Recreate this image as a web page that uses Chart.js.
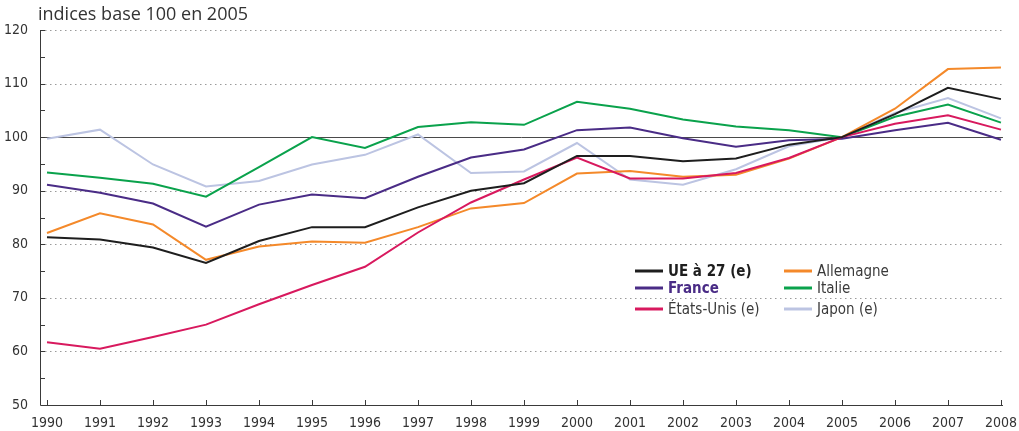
<!DOCTYPE html>
<html>
<head>
<meta charset="utf-8">
<script src="https://cdn.jsdelivr.net/npm/chart.js@4.4.1/dist/chart.umd.min.js"></script>
<style>
  html, body { margin: 0; padding: 0; background: #fff; }
  #wrap { width: 1019px; height: 431px; }
</style>
</head>
<body>
<div id="wrap"><canvas id="graf"></canvas></div>
<script>
    // Indices base 100 en 2005
    const annees = [1990, 1991, 1992, 1993, 1994, 1995, 1996, 1997, 1998, 1999,
                    2000, 2001, 2002, 2003, 2004, 2005, 2006, 2007, 2008];
    const ue27      = [81.3, 80.9, 79.4, 76.5, 80.6, 83.2, 83.2, 86.9, 90.0, 91.4, 96.5, 96.5, 95.5, 96.0, 98.6, 100, 104.3, 109.2, 107.1];
    const allemagne = [82.1, 85.8, 83.7, 77.1, 79.6, 80.5, 80.3, 83.2, 86.7, 87.7, 93.2, 93.7, 92.6, 93.0, 96.0, 100, 105.3, 112.7, 113.0];
    const france    = [91.1, 89.6, 87.6, 83.3, 87.4, 89.3, 88.6, 92.6, 96.2, 97.7, 101.3, 101.8, 99.8, 98.2, 99.4, 99.7, 101.3, 102.7, 99.5];
    const italie    = [93.4, 92.4, 91.3, 88.9, 94.4, 100.0, 98.0, 101.9, 102.8, 102.3, 106.6, 105.3, 103.3, 102.0, 101.3, 100, 103.8, 106.1, 102.7];
    const etatsUnis = [61.7, 60.5, 62.7, 65.0, 68.8, 72.4, 75.8, 82.2, 87.8, 92.1, 96.2, 92.3, 92.3, 93.3, 96.1, 100, 102.5, 104.1, 101.4];
    const japon     = [99.7, 101.4, 94.9, 90.8, 91.8, 94.9, 96.7, 100.5, 93.3, 93.6, 98.9, 92.1, 91.1, 94.0, 98.3, 100, 104.5, 107.3, 103.5];
    const yTicks = [50, 60, 70, 80, 90, 100, 110, 120];
    const titre = 'indices base 100 en 2005';

    const narrow = "'Liberation Sans Narrow', 'Arial Narrow', 'DejaVu Sans Condensed', sans-serif";

    function serie(label, valeurs, couleur, ordre, gras, couleurTexte) {
        return {
            label: label,
            data: annees.map((a, i) => ({ x: a, y: valeurs[i] })),
            borderColor: couleur,
            backgroundColor: couleur,
            borderWidth: 2,
            pointRadius: 0,
            tension: 0,
            order: ordre,
            gras: gras,
            couleurTexte: couleurTexte
        };
    }

    const series = [
        serie('UE à 27 (e)', ue27, '#1e1e1e', 1, true, '#1e1e1e'),
        serie('Allemagne', allemagne, '#f4892a', 4, false, '#3a3a3a'),
        serie('France', france, '#4a2c86', 3, true, '#4a2c86'),
        serie('Italie', italie, '#0aa24c', 5, false, '#3a3a3a'),
        serie('États-Unis (e)', etatsUnis, '#d8195e', 2, false, '#3a3a3a'),
        serie('Japon (e)', japon, '#bcc4e2', 6, false, '#3a3a3a')
    ];

    // grille pointillée, ligne 100, axes et petites graduations
    const grille = {
        id: 'grille',
        beforeDatasetsDraw(chart) {
            const ctx = chart.ctx, a = chart.chartArea;
            const sx = chart.scales.x, sy = chart.scales.y;
            ctx.save();
            ctx.lineWidth = 1;
            yTicks.forEach(v => {
                if (v === 50) return;
                const y = Math.round(sy.getPixelForValue(v)) + 0.5;
                ctx.beginPath();
                if (v === 100) {
                    ctx.setLineDash([]);
                    ctx.strokeStyle = '#4a4a4a';
                } else {
                    ctx.setLineDash([1.5, 3.5]);
                    ctx.strokeStyle = '#9a9a9a';
                }
                ctx.moveTo(a.left, y);
                ctx.lineTo(a.right, y);
                ctx.stroke();
            });
            ctx.setLineDash([]);
            ctx.strokeStyle = '#3a3a3a';
            // axes
            ctx.beginPath();
            ctx.moveTo(a.left + 0.5, a.top);
            ctx.lineTo(a.left + 0.5, a.bottom + 0.5);
            ctx.lineTo(a.right, a.bottom + 0.5);
            ctx.stroke();
            // graduations y tous les 5
            for (let v = 55; v <= 120; v += 5) {
                const y = Math.round(sy.getPixelForValue(v)) + 0.5;
                ctx.beginPath();
                ctx.moveTo(a.left, y);
                ctx.lineTo(a.left + 5, y);
                ctx.stroke();
            }
            // graduations x
            annees.forEach(an => {
                const x = Math.round(sx.getPixelForValue(an)) + 0.5;
                ctx.beginPath();
                ctx.moveTo(x, a.bottom);
                ctx.lineTo(x, a.bottom - 5);
                ctx.stroke();
            });
            // titre de l'axe
            ctx.fillStyle = '#333';
            ctx.font = "18px 'Open Sans', sans-serif";
            ctx.textBaseline = 'middle';
            ctx.fillText(titre, a.left - 2, 15);
            ctx.restore();
        }
    };

    // légende en deux colonnes dans la zone du graphique
    const legende = {
        id: 'legende',
        afterDraw(chart) {
            const ctx = chart.ctx;
            const cols = [635, 784];
            const rows = [271, 288, 309];
            ctx.save();
            ctx.textBaseline = 'middle';
            chart.data.datasets.forEach((ds, i) => {
                const x = cols[i % 2], y = rows[Math.floor(i / 2)];
                ctx.strokeStyle = ds.borderColor;
                ctx.lineWidth = 3;
                ctx.beginPath();
                ctx.moveTo(x, y);
                ctx.lineTo(x + 28, y);
                ctx.stroke();
                ctx.fillStyle = ds.couleurTexte;
                ctx.font = (ds.gras ? 'bold ' : '') + '15px ' + narrow;
                ctx.fillText(ds.label, x + 33, y + 1);
            });
            ctx.restore();
        }
    };

    new Chart(document.getElementById('graf').getContext('2d'), {
        type: 'line',
        data: { datasets: series },
        plugins: [grille, legende],
        options: {
            responsive: true,
            maintainAspectRatio: false,
            animation: false,
            layout: { padding: { left: 0, right: 16, top: 30, bottom: 0 } },
            plugins: {
                legend: { display: false },
                tooltip: { enabled: false },
                title: { display: false }
            },
            scales: {
                x: {
                    type: 'linear',
                    min: 1989.868,
                    max: 2008.038,
                    afterBuildTicks: s => { s.ticks = annees.map(v => ({ value: v })); },
                    afterFit: s => { s.height = 26; },
                    grid: { display: false },
                    border: { display: false },
                    ticks: {
                        color: '#333',
                        font: { family: narrow, size: 14 },
                        padding: 2,
                        maxRotation: 0,
                        autoSkip: false,
                        callback: v => String(v)
                    }
                },
                y: {
                    min: 50,
                    max: 120,
                    afterBuildTicks: s => { s.ticks = yTicks.map(v => ({ value: v })); },
                    afterFit: s => { s.width = 40; },
                    grid: { display: false },
                    border: { display: false },
                    ticks: {
                        color: '#333',
                        font: { family: narrow, size: 14 },
                        padding: 4
                    }
                }
            }
        }
    });
</script>
</body>
</html>
